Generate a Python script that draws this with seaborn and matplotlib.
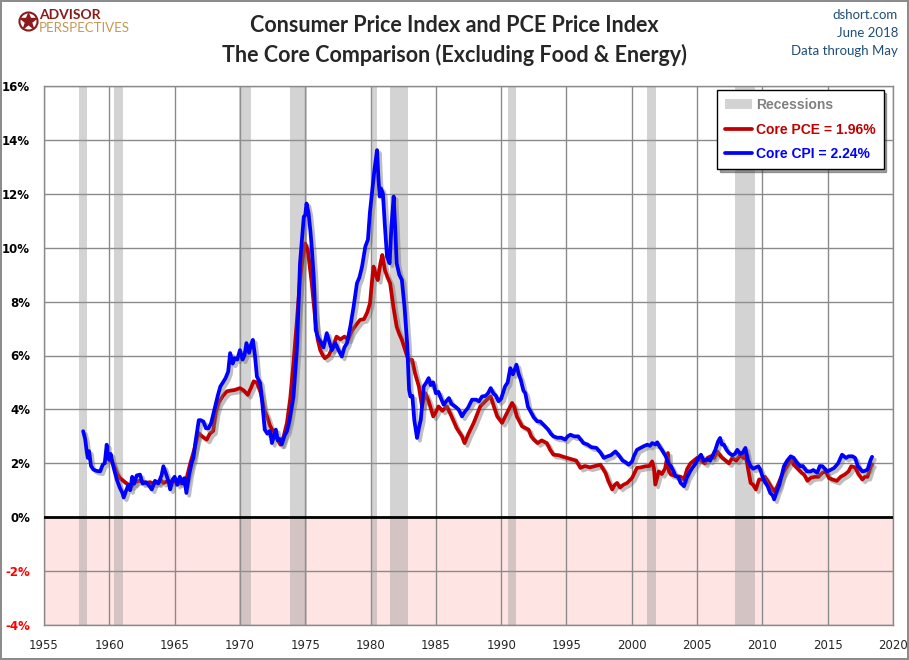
import numpy as np
import pandas as pd
import seaborn as sns
import matplotlib.pyplot as plt
import matplotlib.patheffects as pe
from matplotlib.lines import Line2D
from matplotlib.patches import Patch

# Core CPI, year over year %
cpi_year = [1958.0, 1958.15, 1958.27, 1958.35, 1958.45, 1958.6, 1958.78, 1959.0, 1959.3, 1959.5,
            1959.65, 1959.8, 1959.9, 1960.0, 1960.1, 1960.3, 1960.57, 1960.8, 1961.0, 1961.1,
            1961.3, 1961.46, 1961.6, 1961.75, 1961.9, 1962.1, 1962.35, 1962.55, 1962.8, 1963.0,
            1963.25, 1963.5, 1963.75, 1964.0, 1964.14, 1964.35, 1964.55, 1964.66, 1964.85, 1965.0,
            1965.2, 1965.4, 1965.6, 1965.75, 1965.9, 1966.1, 1966.3, 1966.44, 1966.6, 1966.7,
            1966.85, 1967.0, 1967.2, 1967.4, 1967.6, 1967.8, 1968.0, 1968.1, 1968.3, 1968.5,
            1968.7, 1968.9, 1969.1, 1969.25, 1969.45, 1969.6, 1969.8, 1970.0, 1970.2, 1970.35,
            1970.5, 1970.7, 1970.85, 1970.99, 1971.15, 1971.3, 1971.55, 1971.7, 1971.9, 1972.1,
            1972.3, 1972.45, 1972.6, 1972.75, 1972.9, 1973.05, 1973.2, 1973.4, 1973.6, 1973.8,
            1974.1, 1974.37, 1974.6, 1974.8, 1974.89, 1975.0, 1975.1, 1975.25, 1975.4, 1975.5,
            1975.65, 1975.8, 1976.0, 1976.2, 1976.4, 1976.65, 1976.85, 1977.04, 1977.3, 1977.55,
            1977.8, 1978.0, 1978.2, 1978.45, 1978.7, 1978.96, 1979.15, 1979.35, 1979.6, 1979.8,
            1979.95, 1980.1, 1980.3, 1980.5, 1980.6, 1980.7, 1980.8, 1980.95, 1981.1, 1981.26,
            1981.46, 1981.6, 1981.77, 1981.9, 1982.0, 1982.2, 1982.4, 1982.6, 1982.8, 1982.95,
            1983.05, 1983.2, 1983.35, 1983.56, 1983.7, 1983.85, 1984.07, 1984.25, 1984.45, 1984.6,
            1984.8, 1985.0, 1985.2, 1985.4, 1985.6, 1985.8, 1986.0, 1986.2, 1986.5, 1986.75,
            1987.0, 1987.2, 1987.45, 1987.77, 1988.1, 1988.3, 1988.54, 1988.8, 1989.0, 1989.2,
            1989.4, 1989.6, 1989.8, 1990.0, 1990.3, 1990.5, 1990.7, 1990.9, 1991.17, 1991.35,
            1991.5, 1991.7, 1991.85, 1992.05, 1992.24, 1992.5, 1992.75, 1993.0, 1993.3, 1993.6,
            1993.8, 1994.0, 1994.3, 1994.6, 1994.9, 1995.1, 1995.3, 1995.6, 1995.9, 1996.3,
            1996.6, 1996.9, 1997.3, 1997.6, 1997.86, 1998.1, 1998.4, 1998.75, 1999.0, 1999.3,
            1999.5, 1999.77, 2000.03, 2000.16, 2000.4, 2000.67, 2000.9, 2001.18, 2001.4, 2001.56,
            2001.8, 2001.95, 2002.15, 2002.3, 2002.6, 2002.8, 2003.0, 2003.2, 2003.35, 2003.55,
            2003.74, 2004.0, 2004.2, 2004.4, 2004.6, 2004.9, 2005.1, 2005.3, 2005.5, 2005.8,
            2006.0, 2006.2, 2006.4, 2006.6, 2006.76, 2006.9, 2007.06, 2007.25, 2007.45, 2007.7,
            2007.9, 2008.08, 2008.3, 2008.5, 2008.7, 2008.9, 2009.1, 2009.3, 2009.5, 2009.7,
            2009.85, 2010.0, 2010.2, 2010.4, 2010.6, 2010.8, 2010.9, 2011.1, 2011.3, 2011.5,
            2011.65, 2011.9, 2012.17, 2012.4, 2012.6, 2012.9, 2013.1, 2013.4, 2013.7, 2013.9,
            2014.2, 2014.4, 2014.6, 2014.97, 2015.2, 2015.5, 2015.8, 2016.1, 2016.4, 2016.6,
            2016.9, 2017.1, 2017.3, 2017.65, 2017.85, 2018.05, 2018.2, 2018.3, 2018.4]
cpi_value = [3.19, 2.9, 2.44, 2.2, 2.45, 1.9, 1.77, 1.72, 1.70, 1.95,
             2.0, 2.69, 2.2, 2.14, 2.35, 1.9, 1.40, 1.1, 0.9, 0.73,
             1.0, 1.2, 1.0, 1.5, 1.25, 1.55, 1.58, 1.25, 1.3, 1.2,
             1.03, 1.35, 1.25, 1.55, 1.89, 1.6, 1.3, 1.03, 1.4, 1.5,
             1.2, 1.5, 1.25, 1.45, 0.9, 1.55, 2.0, 2.2, 2.8, 3.13,
             3.6, 3.6, 3.55, 3.3, 3.3, 3.5, 3.9, 4.1, 4.5, 4.85,
             5.0, 5.16, 5.4, 6.09, 5.7, 5.9, 5.85, 6.2, 5.85, 6.0,
             6.46, 6.1, 6.4, 6.58, 6.0, 5.22, 4.98, 4.3, 3.25, 3.1,
             3.2, 2.75, 3.0, 3.25, 2.85, 2.9, 2.7, 3.0, 3.19, 3.6,
             4.48, 6.33, 9.42, 10.6, 11.15, 11.2, 11.64, 11.3, 10.6, 10.0,
             8.93, 6.95, 6.64, 6.5, 6.3, 6.83, 6.5, 6.2, 6.46, 6.2,
             5.96, 6.3, 6.46, 7.07, 7.8, 8.68, 8.9, 9.3, 10.04, 10.3,
             11.3, 12.0, 12.9, 13.62, 12.6, 11.9, 12.2, 12.0, 10.8, 9.67,
             9.42, 10.8, 11.9, 10.6, 9.42, 9.0, 8.8, 7.8, 6.46, 4.73,
             4.48, 4.5, 3.6, 2.94, 3.3, 3.62, 4.85, 4.98, 5.16, 4.9,
             5.0, 4.6, 4.65, 4.4, 4.17, 4.3, 4.42, 4.2, 4.1, 3.99,
             3.74, 3.9, 4.05, 4.36, 4.36, 4.3, 4.48, 4.5, 4.6, 4.79,
             4.6, 4.5, 4.3, 4.4, 4.85, 5.0, 5.53, 5.3, 5.66, 5.3,
             5.1, 4.7, 4.6, 4.1, 3.93, 3.7, 3.56, 3.55, 3.4, 3.25,
             3.1, 3.0, 2.95, 2.95, 2.88, 3.0, 3.06, 3.0, 3.0, 2.75,
             2.7, 2.6, 2.57, 2.4, 2.2, 2.25, 2.3, 2.44, 2.3, 2.1,
             2.05, 1.95, 2.07, 2.26, 2.5, 2.57, 2.63, 2.69, 2.65, 2.75,
             2.7, 2.78, 2.6, 2.5, 2.26, 2.0, 1.89, 1.7, 1.52, 1.5,
             1.27, 1.15, 1.45, 1.64, 1.8, 2.0, 2.2, 2.32, 2.1, 2.15,
             2.1, 2.3, 2.5, 2.8, 2.94, 2.7, 2.69, 2.5, 2.38, 2.3,
             2.35, 2.5, 2.35, 2.4, 2.57, 2.1, 1.89, 1.8, 1.85, 1.89,
             1.75, 1.52, 1.3, 1.15, 0.9, 0.8, 0.66, 0.95, 1.2, 1.6,
             1.89, 2.1, 2.26, 2.2, 2.05, 1.89, 1.9, 1.7, 1.7, 1.75,
             1.65, 1.9, 1.89, 1.7, 1.75, 1.83, 2.0, 2.32, 2.2, 2.26,
             2.26, 2.2, 1.9, 1.7, 1.72, 1.77, 2.0, 2.14, 2.24]

# Core PCE price index, year over year %
pce_year = [1960.0, 1960.2, 1960.4, 1960.57, 1960.8, 1960.95, 1961.2, 1961.46, 1961.7, 1962.0,
            1962.25, 1962.48, 1962.8, 1963.1, 1963.4, 1963.7, 1964.0, 1964.14, 1964.5, 1964.8,
            1965.1, 1965.4, 1965.6, 1965.8, 1966.0, 1966.2, 1966.5, 1966.82, 1967.1, 1967.46,
            1967.7, 1967.95, 1968.15, 1968.36, 1968.7, 1969.0, 1969.3, 1969.6, 1970.0, 1970.3,
            1970.6, 1970.85, 1971.05, 1971.3, 1971.6, 1971.85, 1972.07, 1972.3, 1972.6, 1972.85,
            1973.1, 1973.35, 1973.6, 1973.85, 1974.1, 1974.35, 1974.6, 1974.8, 1975.0, 1975.2,
            1975.35, 1975.5, 1975.77, 1975.95, 1976.15, 1976.35, 1976.5, 1976.8, 1977.1, 1977.4,
            1977.7, 1978.0, 1978.3, 1978.55, 1978.8, 1979.0, 1979.2, 1979.5, 1979.75, 1979.96,
            1980.1, 1980.23, 1980.4, 1980.55, 1980.75, 1980.9, 1981.1, 1981.3, 1981.5, 1981.75,
            1982.0, 1982.2, 1982.4, 1982.65, 1982.9, 1983.18, 1983.4, 1983.7, 1983.94, 1984.2,
            1984.45, 1984.8, 1985.0, 1985.2, 1985.5, 1985.85, 1986.2, 1986.6, 1987.0, 1987.2,
            1987.5, 1987.9, 1988.15, 1988.4, 1988.9, 1989.2, 1989.45, 1989.7, 1990.07, 1990.45,
            1990.84, 1991.0, 1991.2, 1991.6, 1992.1, 1992.3, 1992.5, 1992.8, 1993.1, 1993.5,
            1993.75, 1994.0, 1994.4, 1994.7, 1995.05, 1995.4, 1995.75, 1996.07, 1996.4, 1996.8,
            1997.2, 1997.6, 1997.99, 1998.2, 1998.5, 1998.7, 1998.88, 1999.1, 1999.35, 1999.65,
            2000.03, 2000.4, 2000.7, 2001.05, 2001.35, 2001.56, 2001.7, 2001.8, 2002.07, 2002.3,
            2002.55, 2002.77, 2002.85, 2003.0, 2003.5, 2003.75, 2004.0, 2004.25, 2004.5, 2004.75,
            2005.0, 2005.3, 2005.6, 2005.8, 2006.04, 2006.3, 2006.55, 2006.75, 2006.93, 2007.2,
            2007.44, 2007.7, 2008.0, 2008.34, 2008.55, 2008.7, 2008.9, 2009.1, 2009.3, 2009.5,
            2009.75, 2010.0, 2010.2, 2010.45, 2010.7, 2010.9, 2011.1, 2011.4, 2011.65, 2011.9,
            2012.17, 2012.4, 2012.7, 2013.0, 2013.2, 2013.45, 2013.7, 2014.0, 2014.3, 2014.6,
            2014.86, 2015.1, 2015.36, 2015.7, 2016.0, 2016.3, 2016.6, 2016.8, 2017.1, 2017.35,
            2017.65, 2017.85, 2018.05, 2018.3, 2018.4]
pce_value = [2.1, 2.07, 1.85, 1.64, 1.45, 1.4, 1.3, 1.21, 1.15, 1.3,
             1.35, 1.33, 1.27, 1.3, 1.25, 1.3, 1.35, 1.27, 1.35, 1.3,
             1.35, 1.25, 1.4, 1.21, 1.6, 2.0, 2.5, 3.13, 3.0, 2.88,
             3.1, 3.2, 3.9, 4.24, 4.5, 4.67, 4.7, 4.72, 4.79, 4.7,
             4.54, 4.8, 5.04, 5.0, 4.6, 4.0, 3.74, 3.4, 3.13, 2.9,
             2.69, 3.0, 3.5, 4.4, 5.72, 7.2, 8.8, 9.6, 10.16, 9.9,
             9.3, 8.68, 7.32, 6.6, 6.2, 6.0, 5.9, 6.0, 6.3, 6.7,
             6.6, 6.7, 6.6, 6.9, 7.07, 7.2, 7.32, 7.35, 7.6, 7.94,
             8.7, 9.3, 9.0, 8.8, 9.4, 9.73, 9.17, 8.9, 8.68, 7.8,
             7.07, 6.8, 6.58, 6.2, 5.84, 5.84, 5.35, 4.85, 4.11, 4.6,
             4.3, 3.74, 3.9, 4.11, 3.95, 4.11, 3.74, 3.3, 3.0, 2.75,
             3.1, 3.5, 3.8, 4.11, 4.36, 4.48, 4.1, 3.74, 3.5, 3.87,
             4.24, 4.1, 3.74, 3.37, 3.25, 3.0, 2.88, 2.75, 2.85, 2.75,
             2.5, 2.32, 2.3, 2.25, 2.2, 2.15, 2.1, 1.83, 1.9, 1.85,
             1.9, 1.95, 1.64, 1.35, 1.03, 1.2, 1.27, 1.1, 1.2, 1.27,
             1.46, 1.83, 1.85, 1.89, 1.9, 2.07, 1.8, 1.21, 1.7, 1.6,
             1.8, 2.38, 1.7, 1.58, 1.52, 1.5, 1.4, 1.8, 2.0, 2.1,
             2.2, 2.1, 2.0, 2.2, 2.26, 2.2, 2.44, 2.3, 2.2, 2.1,
             2.0, 2.2, 2.1, 2.32, 2.2, 2.38, 1.8, 1.27, 1.2, 1.03,
             1.4, 1.4, 1.5, 1.3, 1.1, 0.96, 1.1, 1.45, 1.7, 1.9,
             2.14, 1.95, 1.8, 1.65, 1.58, 1.35, 1.46, 1.5, 1.5, 1.65,
             1.7, 1.45, 1.4, 1.35, 1.5, 1.58, 1.7, 1.89, 1.85, 1.6,
             1.4, 1.5, 1.5, 1.89, 1.96]

# NBER recessions
recession_start = [1957.67, 1960.33, 1969.92, 1973.83, 1980.0, 1981.5, 1990.5, 2001.17, 2007.92]
recession_end = [1958.33, 1961.08, 1970.83, 1975.17, 1980.5, 1982.83, 1991.17, 2001.83, 2009.42]

year_ticks = list(range(1955, 2021, 5))
pct_ticks = list(range(-4, 17, 2))

cpi_df = pd.DataFrame({'Year': cpi_year, 'Value': cpi_value})
pce_df = pd.DataFrame({'Year': pce_year, 'Value': pce_value})

sns.set_style('white')
plt.rcParams['font.family'] = ['DejaVu Sans']

fig = plt.figure(figsize=(9.09, 6.6), dpi=100)
fig.patch.set_edgecolor('#8c8c8c')
fig.patch.set_linewidth(1.5)
ax = fig.add_axes([44 / 909, 1 - 625 / 660, 849 / 909, 539 / 660])

# negative zone and recessions
ax.axhspan(-4, 0, color='#ffe4e4', zorder=0, lw=0)
for s, e in zip(recession_start, recession_end):
    ax.axvspan(s, e, color='#969696', alpha=0.42, lw=0, zorder=1)

shadow = [pe.SimpleLineShadow(offset=(2, -2), shadow_color='#707070', alpha=0.45), pe.Normal()]
red = '#c00000'
blue = '#0000ff'
sns.lineplot(data=pce_df, x='Year', y='Value', ax=ax, color=red, lw=2.7, zorder=3,
             path_effects=shadow)
sns.lineplot(data=cpi_df, x='Year', y='Value', ax=ax, color=blue, lw=2.7, zorder=4,
             path_effects=shadow)

ax.axhline(0, color='black', lw=2, zorder=5)

ax.set_xlim(1955, 2020)
ax.set_ylim(-4, 16)
ax.set_xticks(year_ticks)
ax.set_yticks(pct_ticks)
ax.set_xticklabels([str(y) for y in year_ticks], fontsize=8.5)
ax.set_yticklabels([f'{p}%' for p in pct_ticks], fontsize=8.5, fontweight='bold')
for lab, p in zip(ax.get_yticklabels(), pct_ticks):
    lab.set_color('#ff0000' if p < 0 else 'black')
ax.tick_params(length=0)
ax.tick_params(axis='y', pad=10)
ax.tick_params(axis='x', pad=10)
ax.grid(True, color='#8a8a8a', lw=1)
for gl in ax.get_xgridlines() + ax.get_ygridlines():
    gl.set_zorder(2)
for sp in ax.spines.values():
    sp.set_color('#8a8a8a')
    sp.set_linewidth(1)
ax.set_xlabel('')
ax.set_ylabel('')

handles = [Patch(facecolor='#969696', alpha=0.42, edgecolor='none'),
           Line2D([], [], color=red, lw=2.7),
           Line2D([], [], color=blue, lw=2.7)]
labels = ['Recessions', 'Core PCE = 1.96%', 'Core CPI = 2.24%']
leg = ax.legend(handles, labels, loc='upper right', bbox_to_anchor=(0.989, 0.993),
                borderaxespad=0, frameon=True, fancybox=False, shadow=True, framealpha=1,
                edgecolor='black', handlelength=1.9, handletextpad=0.3,
                labelspacing=0.75, borderpad=0.6,
                prop={'family': 'Liberation Sans', 'weight': 'bold', 'size': 10})
leg.get_frame().set_linewidth(1)
for txt, c in zip(leg.get_texts(), ['#808080', red, blue]):
    txt.set_color(c)

# titles and notes
title_font = ['Lato', 'DejaVu Sans']
fig.text(0.5, 1 - 25 / 660, 'Consumer Price Index and PCE Price Index', ha='center', va='center',
         fontsize=15.5, fontweight='bold', family=title_font)
fig.text(0.5, 1 - 55 / 660, 'The Core Comparison (Excluding Food & Energy)', ha='center',
         va='center', fontsize=15.5, fontweight='bold', family=title_font)
note_color = '#1f4e79'
fig.text(898 / 909, 1 - 15 / 660, 'dshort.com', ha='right', va='center', fontsize=9.5,
         color=note_color, family=title_font)
fig.text(898 / 909, 1 - 33 / 660, 'June 2018', ha='right', va='center', fontsize=9.5,
         color=note_color, family=title_font)
fig.text(898 / 909, 1 - 51 / 660, 'Data through May', ha='right', va='center', fontsize=9.5,
         color=note_color, family=title_font)

# logo
fig.add_artist(Line2D([28 / 909], [1 - 21 / 660], marker='o', markersize=13, mfc='none',
                      mec='#8b1a1a', mew=1.5, transform=fig.transFigure))
fig.add_artist(Line2D([28 / 909], [1 - 21 / 660], marker='*', markersize=12, color='#8b1a1a',
                      transform=fig.transFigure))
fig.text(39 / 909, 1 - 15 / 660, 'ADVISOR', ha='left', va='center', fontsize=10,
         fontweight='bold', color='#8b1a1a', family=title_font)
fig.text(39 / 909, 1 - 28 / 660, 'PERSPECTIVES', ha='left', va='center', fontsize=9.5,
         color='#c49a52', family=title_font)

fig.savefig('out.png', dpi=100)
